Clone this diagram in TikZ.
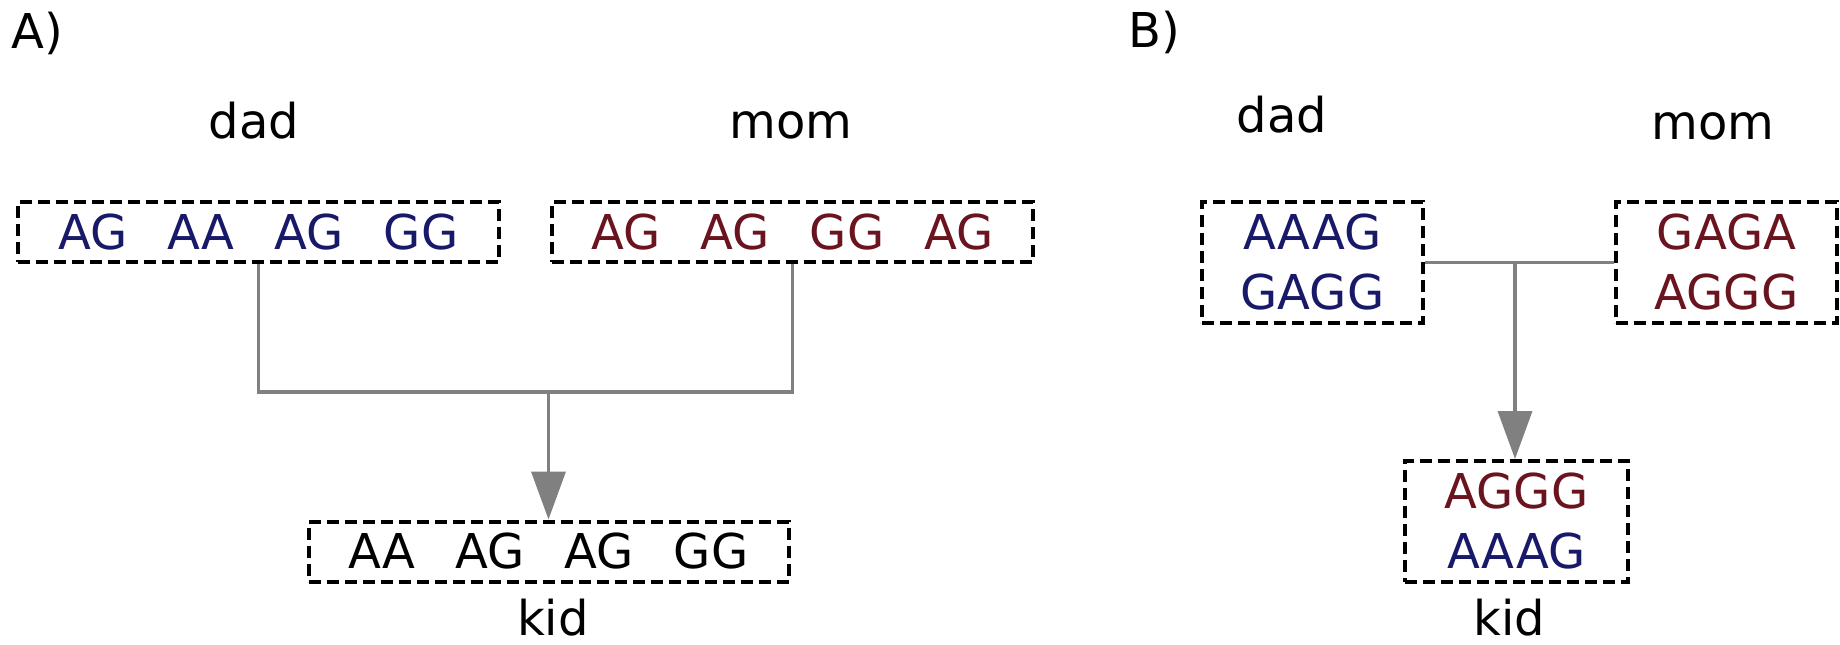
\documentclass[tikz,border=0pt]{standalone}
\usepackage{fontspec}
\setmainfont{DejaVu Sans}
\usetikzlibrary{arrows.meta}
\definecolor{dadcol}{RGB}{25,25,105}
\definecolor{momcol}{RGB}{105,20,30}
\definecolor{conncol}{RGB}{128,128,128}
\tikzset{
  seqbox/.style={draw=black, line width=2pt, dash pattern=on 6pt off 3pt,
    inner sep=0pt, align=center, font=\fontsize{24pt}{30pt}\selectfont},
  lbl/.style={anchor=base, inner sep=0pt, font=\fontsize{24pt}{30pt}\selectfont},
  conn/.style={draw=conncol, line width=1.8pt},
  arr/.style={conn, -{Triangle[length=24pt,width=17pt]}},
}
\newcommand{\gp}{\hspace{20pt}}
\begin{document}
\begin{tikzpicture}[x=0.5pt,y=-0.5pt]
\useasboundingbox (0,0) rectangle (1840,644);
% ---------- A ----------
\node[lbl, anchor=base west] (labA) at (11,48) {A)};
\node[lbl] (dadAl) at (254,138) {dad};
\node[lbl] (momAl) at (791,138) {mom};
\node[seqbox, text=dadcol, minimum width=240.5pt, minimum height=30pt] (dadA) at (258.5,232) {AG\gp AA\gp AG\gp GG};
\node[seqbox, text=momcol, minimum width=240.5pt, minimum height=30pt] (momA) at (792.5,232) {AG\gp AG\gp GG\gp AG};
\node[seqbox, text=black, minimum width=240pt, minimum height=30pt] (kidA) at (548.5,551.5) {AA\gp AG\gp AG\gp GG};
\node[lbl, text depth=0pt] (kidAl) at (553,635) {kid};
\coordinate (jA) at (548.5,392);
\draw[conn] (dadA.south) |- (jA);
\draw[conn] (momA.south) |- (jA);
\draw[arr] (jA) -- (kidA.north);
% ---------- B ----------
\node[lbl, anchor=base west] (labB) at (1128,47) {B)};
\node[lbl] (dadBl) at (1282,132) {dad};
\node[lbl] (momBl) at (1713,139) {mom};
\node[seqbox, text=dadcol, minimum width=110.5pt, minimum height=60.5pt] (dadB) at (1312.5,262.5) {AAAG\\GAGG};
\node[seqbox, text=momcol, minimum width=110.5pt, minimum height=60.5pt] (momB) at (1726.5,262.5) {GAGA\\AGGG};
\node[seqbox, minimum width=111.5pt, minimum height=60.5pt] (kidB) at (1516.5,521.5) {\textcolor{momcol}{AGGG}\\\textcolor{dadcol}{AAAG}};
\node[lbl, text depth=0pt] (kidBl) at (1509,635) {kid};
\coordinate (jB) at (1515,262.5);
\draw[conn] (dadB.east) -- (momB.west);
\draw[arr] (jB) -- (jB |- kidB.north);
\end{tikzpicture}
\end{document}
